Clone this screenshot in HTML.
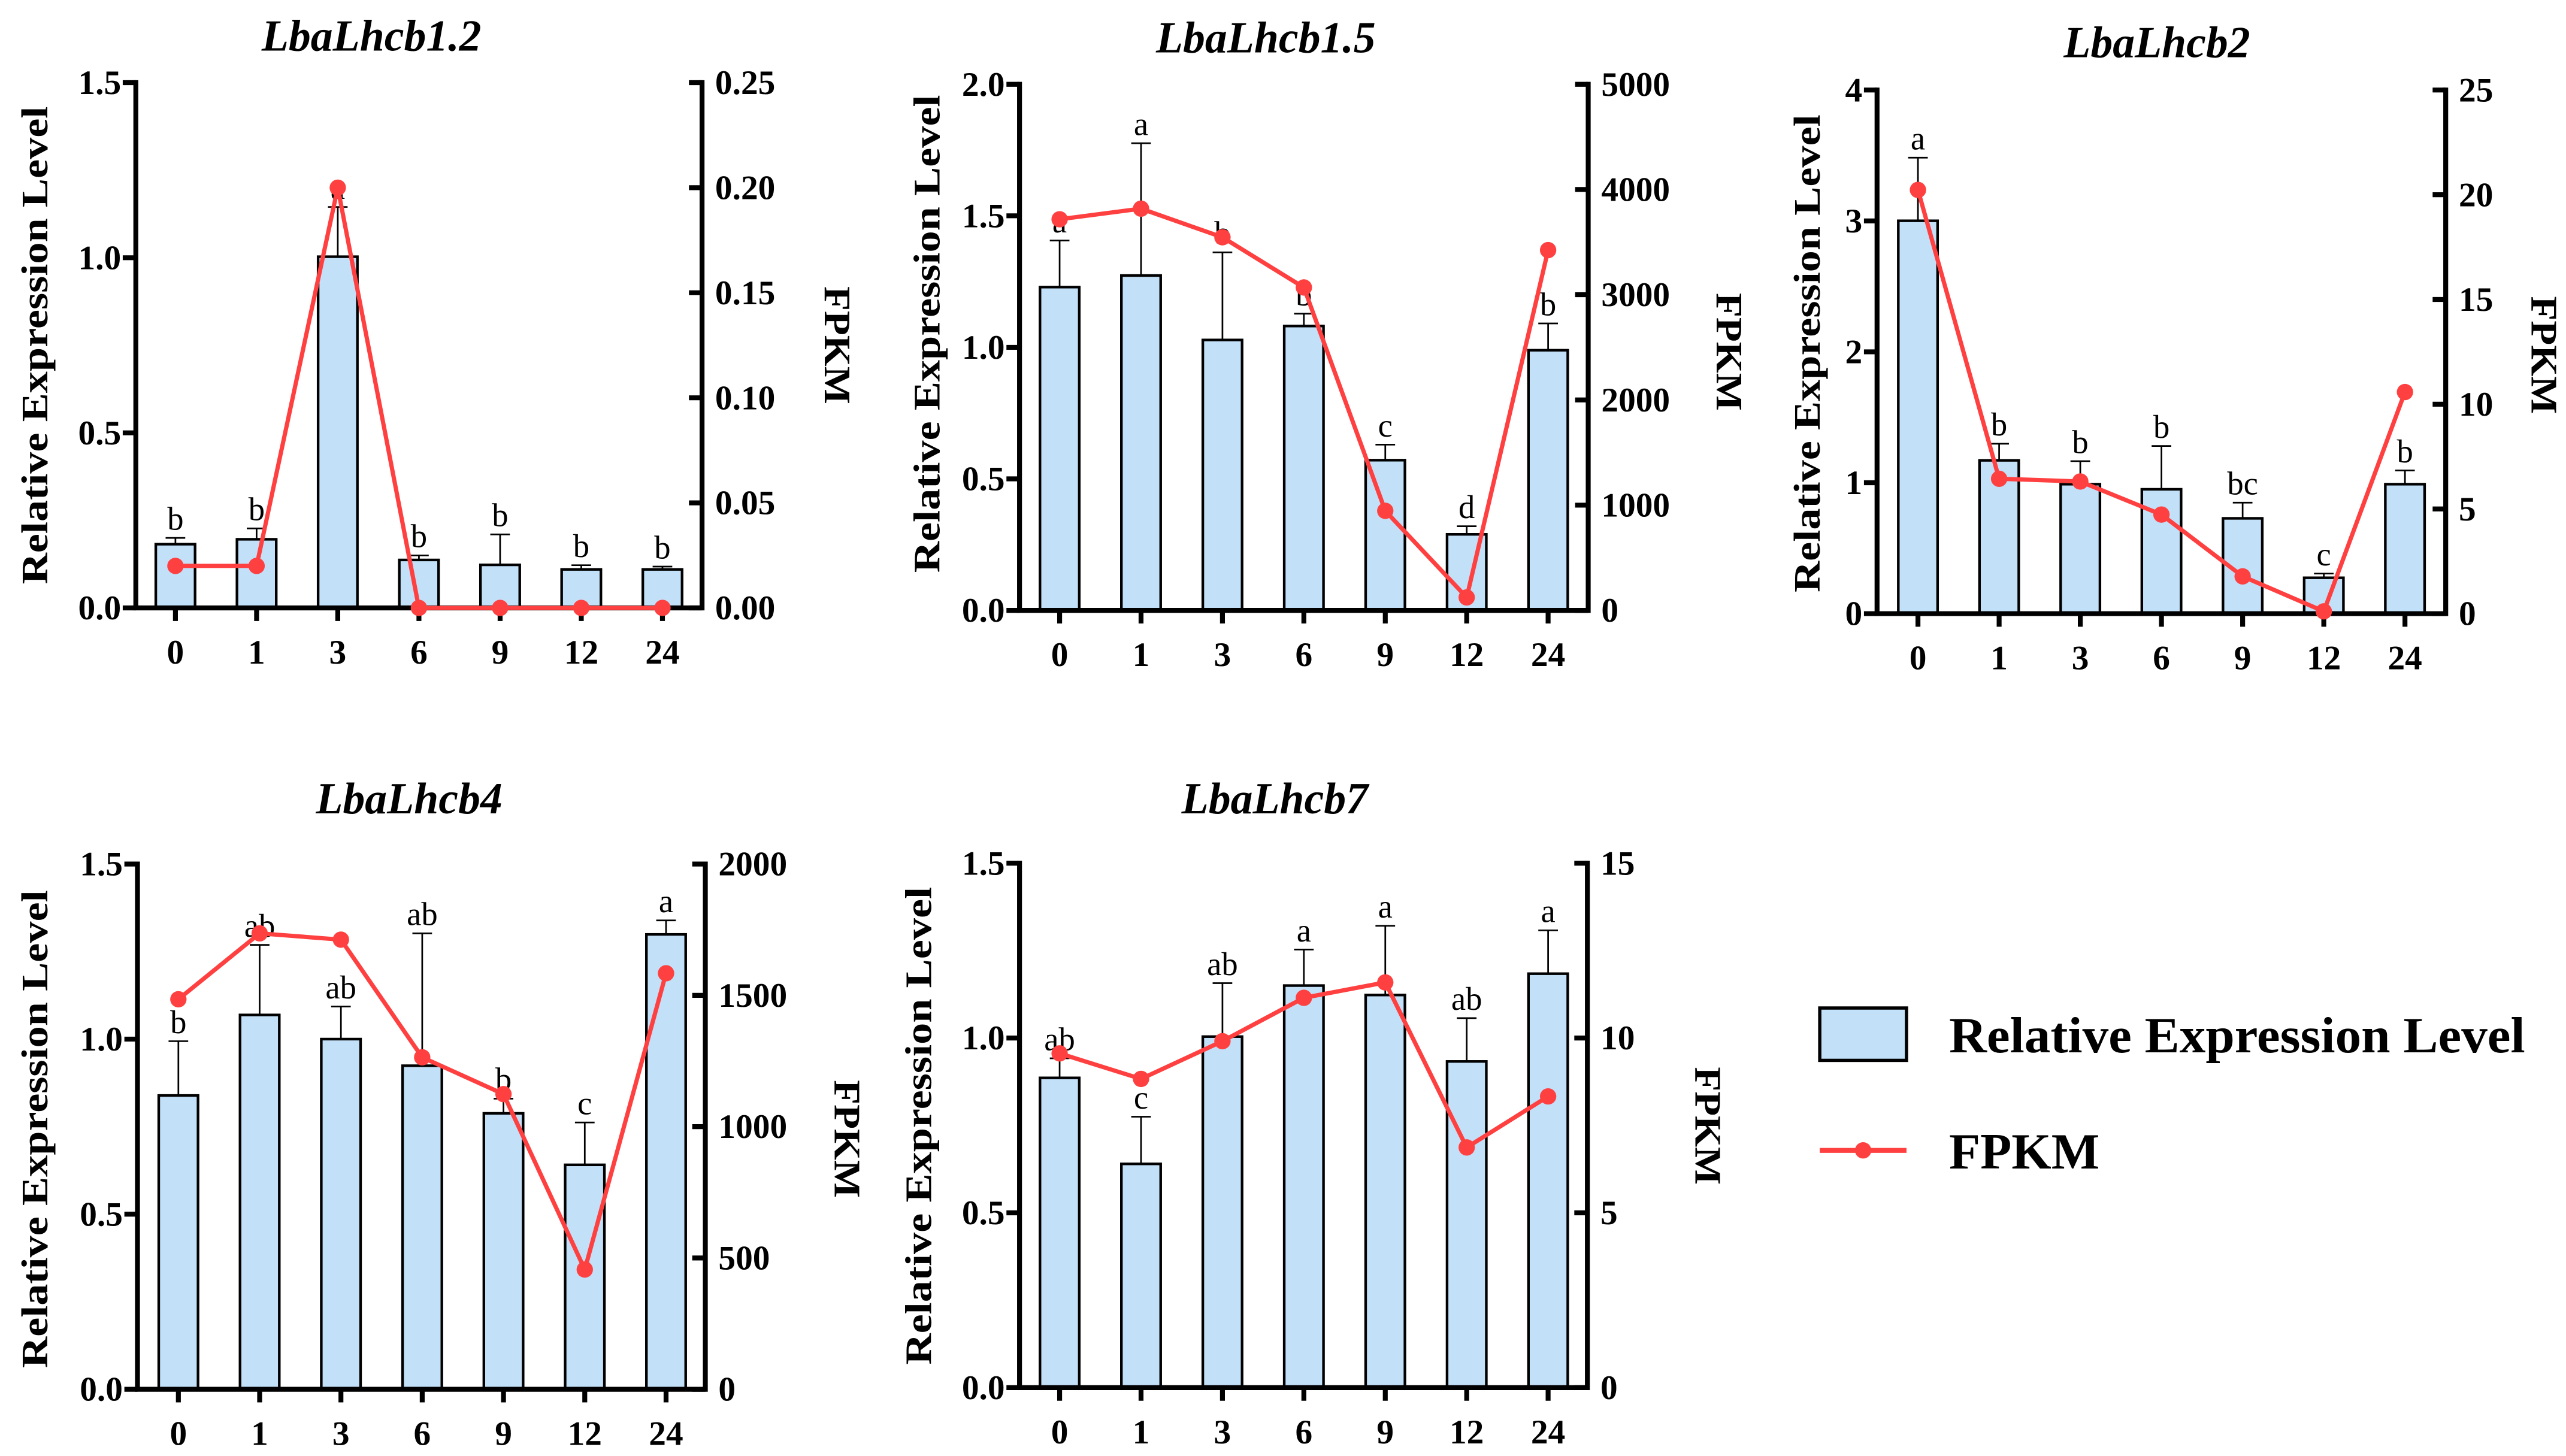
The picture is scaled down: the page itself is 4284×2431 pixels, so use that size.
<!DOCTYPE html>
<html><head><meta charset="utf-8">
<style>
html,body{margin:0;padding:0;background:#fff;}
svg{display:block;}
svg text{font-family:"Liberation Serif","Times New Roman","DejaVu Serif",serif !important;font-weight:bold;fill:#000;}
</style></head>
<body>
<svg id="fig" xmlns="http://www.w3.org/2000/svg" width="4284" height="2431" viewBox="0 0 1568 889.76" font-family="Liberation Serif, serif">
<rect width="1568" height="889.76" fill="#fff"/>
<g id="legend">
  <rect x="1112" y="616" width="53" height="32" fill="#c2e0f8" stroke="#000" stroke-width="2"/>
  <text x="1191" y="643" font-size="31" textLength="352" lengthAdjust="spacingAndGlyphs">Relative Expression Level</text>
  <line x1="1112" y1="703" x2="1165" y2="703" stroke="#ff4040" stroke-width="3"/>
  <circle cx="1138.5" cy="703" r="5" fill="#ff4040"/>
  <text x="1191" y="714" font-size="31" textLength="92" lengthAdjust="spacingAndGlyphs">FPKM</text>
</g>
</svg>
<script>
const categories = ["0","1","3","6","9","12","24"];

const titles = ["LbaLhcb1.2","LbaLhcb1.5","LbaLhcb2","LbaLhcb4","LbaLhcb7"];

const rel12 = [0.182,0.196,1.003,0.137,0.123,0.11,0.11];
const err12 = [0.2,0.227,1.145,0.15,0.21,0.122,0.118];
const fpkm12 = [0.020,0.020,0.200,0,0,0,0];
const let12 = ["b","b","a","b","b","b","b"];

const rel15 = [1.229,1.273,1.028,1.081,0.571,0.289,0.989];
const err15 = [1.406,1.776,1.361,1.128,0.63,0.32,1.091];
const fpkm15 = [3717,3818,3546,3069,946,123,3424];
const let15 = ["a","a","b","b","c","d","b"];

const rel2 = [3.001,1.171,0.989,0.95,0.728,0.274,0.989];
const err2 = [3.483,1.298,1.165,1.281,0.848,0.306,1.094];
const fpkm2 = [20.23,6.44,6.31,4.73,1.78,0.11,10.58];
const let2 = ["a","b","b","b","bc","c","b"];

const rel4 = [0.839,1.069,1.0,0.924,0.788,0.641,1.299];
const err4 = [0.994,1.269,1.093,1.302,0.83,0.762,1.339];
const fpkm4 = [1485,1736,1712,1264,1124,456,1584];
const let4 = ["b","ab","ab","ab","b","c","a"];

const rel7 = [0.886,0.64,1.004,1.15,1.123,0.933,1.184];
const err7 = [0.942,0.775,1.157,1.253,1.321,1.057,1.308];
const fpkm7 = [9.56,8.83,9.91,11.15,11.59,6.87,8.33];
const let7 = ["ab","c","ab","a","a","ab","a"];

const leftTicks12 = ["0.0","0.5","1.0","1.5"];
const rightTicks12 = ["0.00","0.05","0.10","0.15","0.20","0.25"];
const leftTicks15 = ["0.0","0.5","1.0","1.5","2.0"];
const rightTicks15 = ["0","1000","2000","3000","4000","5000"];
const leftTicks2 = ["0","1","2","3","4"];
const rightTicks2 = ["0","5","10","15","20","25"];
const leftTicks4 = ["0.0","0.5","1.0","1.5"];
const rightTicks4 = ["0","500","1000","1500","2000"];
const leftTicks7 = ["0.0","0.5","1.0","1.5"];
const rightTicks7 = ["0","5","10","15"];

const NS = "http://www.w3.org/2000/svg";
const svg = document.getElementById("fig");
function mk(tag, attrs, parent){
  const e = document.createElementNS(NS, tag);
  for (const k in attrs) e.setAttribute(k, attrs[k]);
  parent.appendChild(e);
  return e;
}

const panels = [
 {title:titles[0], rel:rel12, err:err12, fpkm:fpkm12, lets:let12, lt:leftTicks12, rt:rightTicks12,
  ax:83, bx:429, y0:371.5, yT:50.5, c0:107.2, c6:404.8, tx:227, ty:31, ylx:29, yly:211, frx:512, fry:211},
 {title:titles[1], rel:rel15, err:err15, fpkm:fpkm15, lets:let15, lt:leftTicks15, rt:rightTicks15,
  ax:623, bx:970.5, y0:373, yT:51.5, c0:647.5, c6:946, tx:773.5, ty:32, ylx:574, yly:204, frx:1057, fry:215},
 {title:titles[2], rel:rel2, err:err2, fpkm:fpkm2, lets:let2, lt:leftTicks2, rt:rightTicks2,
  ax:1147, bx:1494.5, y0:375, yT:55, c0:1172, c6:1469.6, tx:1318, ty:35, ylx:1112, yly:216, frx:1555, fry:217},
 {title:titles[3], rel:rel4, err:err4, fpkm:fpkm4, lets:let4, lt:leftTicks4, rt:rightTicks4,
  ax:84, bx:431, y0:849, yT:528, c0:109, c6:407, tx:250, ty:497, ylx:29, yly:690, frx:518, fry:696},
 {title:titles[4], rel:rel7, err:err7, fpkm:fpkm7, lets:let7, lt:leftTicks7, rt:rightTicks7,
  ax:623, bx:970, y0:848, yT:527.5, c0:647.5, c6:946, tx:779, ty:497, ylx:569, yly:688, frx:1044, fry:688}
];

panels.forEach((p, pi) => {
  const g = mk("g", {}, svg);
  
  
  const lMax = parseFloat(p.lt[p.lt.length-1]);
  const rMax = parseFloat(p.rt[p.rt.length-1]);
  const yL = v => p.y0 - (v / lMax) * (p.y0 - p.yT);
  const yR = v => p.y0 - (v / rMax) * (p.y0 - p.yT);
  const step = (p.c6 - p.c0) / (categories.length - 1);
  const xC = i => p.c0 + i * step;
  const bw = 24;

  const t = mk("text", {x:p.tx, y:p.ty, "font-size":27, "font-style":"italic", "text-anchor":"middle"}, g);
  
  
  t.textContent = p.title;

  p.rel.forEach((v, i) => {
    const x = xC(i);
    const eline = mk("path", {d:`M${x},${yL(v)}V${yL(p.err[i])}M${x-6},${yL(p.err[i])}H${x+6}`, stroke:"#000", "stroke-width":1, fill:"none"}, g);
    
    
    const r = mk("rect", {x:x-bw/2, y:yL(v), width:bw, height:p.y0-yL(v), fill:"#c2e0f8", stroke:"#000", "stroke-width":1.6}, g);
    
    
    const lt = mk("text", {x:x, y:yL(p.err[i]) - 5, "font-size":20, "text-anchor":"middle"}, g);
    
    
    lt.style.fontWeight = "normal";
    lt.textContent = p.lets[i];
  });

  const ax = mk("path", {d:`M${p.ax},${p.yT}V${p.y0}H${p.bx}V${p.yT}`, stroke:"#000", "stroke-width":3, fill:"none", "stroke-linecap":"square"}, g);
  
  

  p.lt.forEach((s, i) => {
    const y = yL(parseFloat(s));
    const tk = mk("line", {x1:p.ax-8, x2:p.ax, y1:y, y2:y, stroke:"#000", "stroke-width":3}, g);
    
    
    const tl = mk("text", {x:p.ax-9, y:y+7, "font-size":21, "text-anchor":"end"}, g);
    
    
    tl.textContent = s;
  });
  p.rt.forEach((s, i) => {
    const y = yR(parseFloat(s));
    const tk = mk("line", {x1:p.bx, x2:p.bx-8, y1:y, y2:y, stroke:"#000", "stroke-width":3}, g);
    
    
    const tl = mk("text", {x:p.bx+8, y:y+7, "font-size":21, "text-anchor":"start"}, g);
    
    
    tl.textContent = s;
  });
  categories.forEach((c, i) => {
    const x = xC(i);
    const tk = mk("line", {x1:x, x2:x, y1:p.y0, y2:p.y0+8, stroke:"#000", "stroke-width":3}, g);
    
    
    const tl = mk("text", {x:x, y:p.y0+34, "font-size":21, "text-anchor":"middle"}, g);
    
    
    tl.textContent = c;
  });

  const yl = mk("text", {x:0, y:0, "font-size":23, "text-anchor":"middle", textLength:292, lengthAdjust:"spacingAndGlyphs", transform:`translate(${p.ylx},${p.yly}) rotate(-90)`}, g);
  
  
  yl.textContent = "Relative Expression Level";
  const fr = mk("text", {x:0, y:0, "font-size":23, "text-anchor":"middle", textLength:72, lengthAdjust:"spacingAndGlyphs", transform:`translate(${p.frx-8},${p.fry}) rotate(90)`}, g);
  
  
  fr.textContent = "FPKM";

  const pts = p.fpkm.map((v, i) => `${xC(i)},${yR(v)}`).join(" ");
  const pl = mk("polyline", {points:pts, fill:"none", stroke:"#ff4040", "stroke-width":2.6, "stroke-linejoin":"round"}, g);
  
  
  p.fpkm.forEach((v, i) => {
    const c = mk("circle", {cx:xC(i), cy:yR(v), r:5, fill:"#ff4040"}, g);
    
    
  });
});
</script>
</body></html>
